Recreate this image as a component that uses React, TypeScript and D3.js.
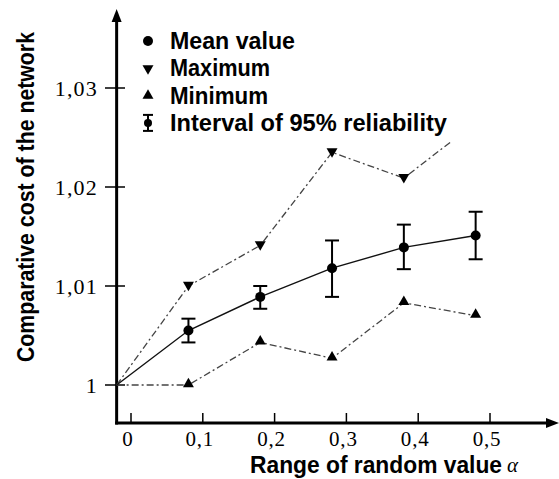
import React from 'react';
import * as d3 from 'd3';

// ---- data ----
const xValues = [-0.02, 0.08, 0.18, 0.28, 0.38, 0.48];
const meanValues = [1.0, 1.0055, 1.0089, 1.0118, 1.0139, 1.0151];
const ciUpper = [1.0, 1.0067, 1.01, 1.0146, 1.0162, 1.0175];
const ciLower = [1.0, 1.0043, 1.0077, 1.0089, 1.0117, 1.0127];
const maxValues = [1.0, 1.01, 1.0141, 1.0235, 1.0209, 1.0265];
const minValues = [1.0, 1.0, 1.0043, 1.0027, 1.0083, 1.007];
const xTicks = [0, 0.1, 0.2, 0.3, 0.4, 0.5];
const xTickLabels = ['0', '0,1', '0,2', '0,3', '0,4', '0,5'];
const yTicks = [1, 1.01, 1.02, 1.03];
const yTickLabels = ['1', '1,01', '1,02', '1,03'];
const legendLabels = ['Mean value', 'Maximum', 'Minimum', 'Interval of 95% reliability'];
const xTitle = 'Range of random value ';
const xTitleSymbol = 'α';
const yTitle = 'Comparative cost of the network';
const maxVisibleUntil = 0.447;

// ---- layout ----
const W = 559;
const H = 479;
const AXIS_Y = 423;
const legendWidths = [125, 100, 98, 277];
const SANS = "'Liberation Sans Narrow', 'Arial Narrow', 'Liberation Sans', Arial, sans-serif";
const SERIF = "'Liberation Serif', 'Times New Roman', serif";

export default function App() {
  const x = d3.scaleLinear().domain([0, 0.5]).range([131, 490]);
  const y = d3.scaleLinear().domain([1, 1.03]).range([385, 88]);
  const axisX = x(xValues[0]);

  const line = d3
    .line<number>()
    .x((_, i) => x(xValues[i]))
    .y((d) => y(d));

  const triUp = d3.symbol(d3.symbolTriangle, 52)()!;
  const dash = '7,3,2,3';
  const idx = xValues.map((_, i) => i).slice(1);

  return (
    <svg
      width={W}
      height={H}
      style={{ position: 'absolute', left: 0, top: 0, background: '#fff' }}
      fontFamily={SANS}
    >
      <defs>
        <clipPath id="maxClip">
          <rect x={0} y={0} width={x(maxVisibleUntil)} height={H} />
        </clipPath>
      </defs>

      {/* axes */}
      <line x1={axisX} x2={axisX} y1={AXIS_Y + 1.5} y2={18} stroke="#000" strokeWidth={3} />
      <path d={`M${axisX},9 L${axisX - 5},22 L${axisX + 5},22 Z`} fill="#000" />
      <line x1={axisX - 1.5} x2={548} y1={AXIS_Y} y2={AXIS_Y} stroke="#000" strokeWidth={3} />
      <path d={`M559,${AXIS_Y} L546,${AXIS_Y - 5} L546,${AXIS_Y + 5} Z`} fill="#000" />

      {/* y ticks */}
      {yTicks.map((t, i) => (
        <g key={'yt' + i}>
          <line x1={105} x2={125} y1={y(t)} y2={y(t)} stroke="#000" strokeWidth={1.5} />
          <text
            x={98}
            y={y(t) + 7.5}
            textAnchor="end"
            fontFamily={SERIF}
            fontSize={22}
            letterSpacing={1.2}
          >
            {yTickLabels[i]}
          </text>
        </g>
      ))}

      {/* x ticks */}
      {xTicks.map((t, i) => (
        <g key={'xt' + i}>
          <line x1={x(t)} x2={x(t)} y1={AXIS_Y - 10} y2={AXIS_Y} stroke="#000" strokeWidth={1.5} />
          <text
            x={x(t) - 3}
            y={446}
            textAnchor="middle"
            fontFamily={SERIF}
            fontSize={21}
            letterSpacing={0.8}
          >
            {xTickLabels[i]}
          </text>
        </g>
      ))}

      {/* titles */}
      <text x={250} y={473} fontSize={23} fontWeight="bold" textLength={252} lengthAdjust="spacingAndGlyphs">
        {xTitle}
      </text>
      <text x={507} y={472} fontSize={21} fontFamily={SERIF} fontStyle="italic">
        {xTitleSymbol}
      </text>
      <text
        transform={`translate(34,197) rotate(-90)`}
        textAnchor="middle"
        fontSize={23}
        fontWeight="bold"
        textLength={330}
        lengthAdjust="spacingAndGlyphs"
      >
        {yTitle}
      </text>

      {/* max / min lines */}
      <path d={line(maxValues)!} fill="none" stroke="#444" strokeWidth={1.3} strokeDasharray={dash} clipPath="url(#maxClip)" />
      <path d={line(minValues)!} fill="none" stroke="#444" strokeWidth={1.3} strokeDasharray={dash} />
      {/* mean line */}
      <path d={line(meanValues)!} fill="none" stroke="#111" strokeWidth={1.4} />

      {/* error bars */}
      {idx.map((i) => (
        <g key={'eb' + i} stroke="#000" strokeWidth={2}>
          <line x1={x(xValues[i])} x2={x(xValues[i])} y1={y(ciUpper[i])} y2={y(ciLower[i])} />
          <line x1={x(xValues[i]) - 7} x2={x(xValues[i]) + 7} y1={y(ciUpper[i])} y2={y(ciUpper[i])} />
          <line x1={x(xValues[i]) - 7} x2={x(xValues[i]) + 7} y1={y(ciLower[i])} y2={y(ciLower[i])} />
        </g>
      ))}

      {/* markers */}
      {idx.map((i) => (
        <circle key={'m' + i} cx={x(xValues[i])} cy={y(meanValues[i])} r={5} fill="#000" />
      ))}
      {idx
        .filter((i) => xValues[i] <= maxVisibleUntil)
        .map((i) => (
          <path
            key={'mx' + i}
            d={triUp}
            transform={`translate(${x(xValues[i])},${y(maxValues[i]) - 1}) rotate(180)`}
            fill="#000"
          />
        ))}
      {idx.map((i) => (
        <path
          key={'mn' + i}
          d={triUp}
          transform={`translate(${x(xValues[i])},${y(minValues[i]) - 1})`}
          fill="#000"
        />
      ))}

      {/* legend */}
      {legendLabels.map((lab, i) => {
        const cy = 41 + i * 27.3;
        const mx = 148;
        return (
          <g key={'lg' + i}>
            {i === 0 && <circle cx={mx} cy={cy} r={5} fill="#000" />}
            {i === 1 && <path d={triUp} transform={`translate(${mx},${cy}) rotate(180)`} fill="#000" />}
            {i === 2 && <path d={triUp} transform={`translate(${mx},${cy})`} fill="#000" />}
            {i === 3 && (
              <g stroke="#000" strokeWidth={2}>
                <line x1={mx} x2={mx} y1={cy - 8} y2={cy + 8} />
                <line x1={mx - 5} x2={mx + 5} y1={cy - 8} y2={cy - 8} />
                <line x1={mx - 5} x2={mx + 5} y1={cy + 8} y2={cy + 8} />
                <circle cx={mx} cy={cy} r={4} fill="#000" stroke="none" />
              </g>
            )}
            <text
              x={170}
              y={cy + 8}
              fontSize={24}
              fontWeight="bold"
              textLength={legendWidths[i]}
              lengthAdjust="spacingAndGlyphs"
            >
              {lab}
            </text>
          </g>
        );
      })}
    </svg>
  );
}
